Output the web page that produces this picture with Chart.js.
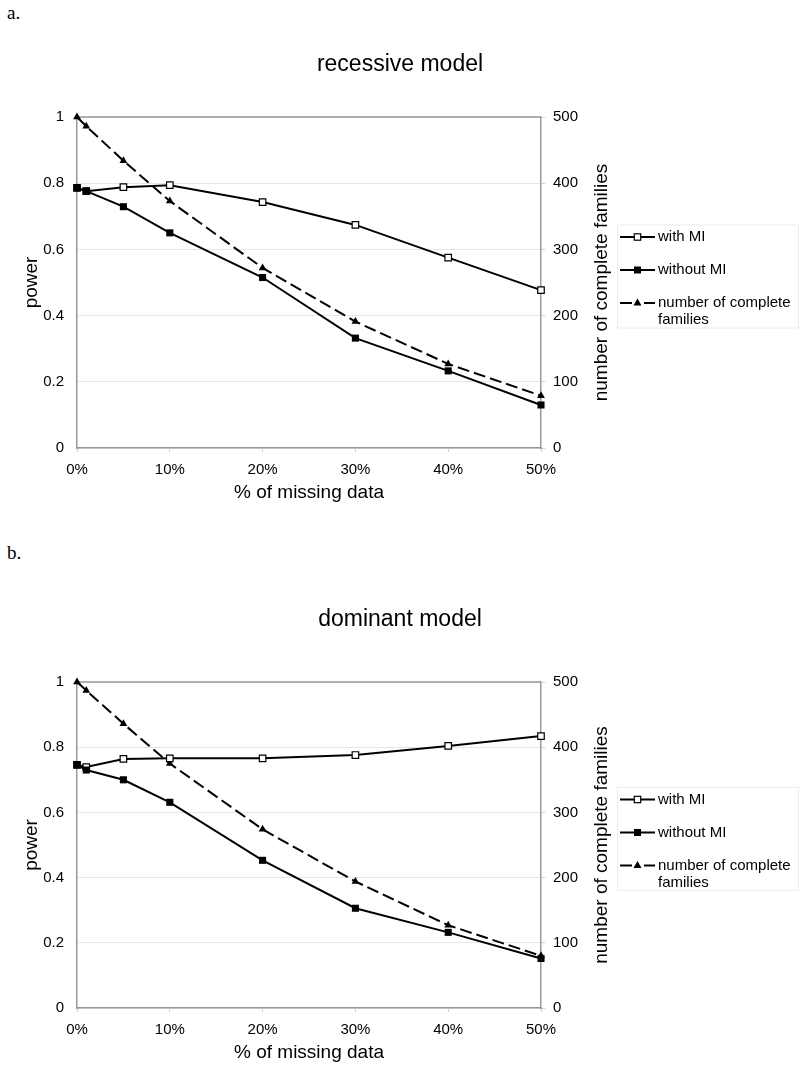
<!DOCTYPE html>
<html><head><meta charset="utf-8">
<script src="https://cdn.jsdelivr.net/npm/chart.js@4"></script>
<style>
html,body{margin:0;padding:0;background:#fff;width:800px;height:1073px;overflow:hidden;}
.panel{position:absolute;left:0;width:800px;}
.lbl{position:absolute;left:7px;font-family:"Liberation Serif","Times New Roman",serif;font-size:19px;color:#000;line-height:22px;}
</style></head><body>
<div class="lbl" style="top:2px">a.</div>
<div class="panel" style="top:0;height:540px"><canvas id="ca"></canvas></div>
<div class="lbl" style="top:542px">b.</div>
<div class="panel" style="top:540px;height:533px"><canvas id="cb"></canvas></div>
<script>
// ---- data ----
const missingPct = [0, 1, 5, 10, 20, 30, 40, 50];
const recWithMI    = [0.786, 0.776, 0.788, 0.794, 0.743, 0.674, 0.575, 0.477];
const recWithoutMI = [0.786, 0.776, 0.729, 0.650, 0.515, 0.332, 0.233, 0.130];
const recFamilies  = [500, 486, 434, 373, 272, 191, 127, 79];
const domWithMI    = [0.746, 0.739, 0.764, 0.766, 0.766, 0.776, 0.804, 0.834];
const domWithoutMI = [0.746, 0.730, 0.700, 0.631, 0.453, 0.306, 0.232, 0.152];
const domFamilies  = [500, 487, 436, 375, 274, 194, 127, 80];
const seriesLabels = ['with MI', 'without MI', 'number of complete families'];
const legendLines = [['with MI'], ['without MI'], ['number of complete', 'families']];
const xTicks = [0, 10, 20, 30, 40, 50];
const xTickLabels = ['0%', '10%', '20%', '30%', '40%', '50%'];
const powerTicks = [0, 0.2, 0.4, 0.6, 0.8, 1];
const powerTickLabels = ['0', '0.2', '0.4', '0.6', '0.8', '1'];
const familyTicks = [0, 100, 200, 300, 400, 500];
const familyTickLabels = ['0', '100', '200', '300', '400', '500'];

const FONT = '"Liberation Sans", Arial, Helvetica, sans-serif';
Chart.defaults.font.family = FONT;
Chart.defaults.color = '#000';

const decor = {
  id: 'decor',
  beforeDatasetsDraw(chart) {
    const {ctx, chartArea: a} = chart;
    ctx.save();
    ctx.strokeStyle = '#999';
    ctx.lineWidth = 1.5;
    ctx.beginPath();
    ctx.moveTo(a.left, a.top);
    ctx.lineTo(a.right, a.top);
    ctx.stroke();
    ctx.restore();
  },
  afterDraw(chart) {
    const {ctx, chartArea: a} = chart;
    const cy = (a.top + a.bottom) / 2;
    ctx.save();
    // right axis title
    ctx.translate(602, cy);
    ctx.rotate(-Math.PI / 2);
    ctx.font = '19px ' + FONT;
    ctx.fillStyle = '#000';
    ctx.textAlign = 'center';
    ctx.textBaseline = 'middle';
    ctx.fillText('number of complete families', 0, 0);
    ctx.restore();

    // legend
    ctx.save();
    ctx.strokeStyle = '#ececec';
    ctx.lineWidth = 1;
    ctx.strokeRect(617.5, cy - 57.5, 181, 103);
    const rows = [cy - 45.5, cy - 12.5, cy + 20.5];
    const x0 = 620, x1 = 655, mx = 637.5, tx = 658;
    ctx.font = '15px ' + FONT;
    ctx.fillStyle = '#000';
    ctx.textAlign = 'left';
    ctx.textBaseline = 'middle';
    rows.forEach((y, i) => {
      ctx.strokeStyle = '#000';
      ctx.lineWidth = 2;
      ctx.beginPath();
      if (i < 2) {
        ctx.moveTo(x0, y); ctx.lineTo(x1, y);
      } else {
        ctx.moveTo(x0, y); ctx.lineTo(632, y);
        ctx.moveTo(644, y); ctx.lineTo(x1, y);
      }
      ctx.stroke();
      ctx.lineWidth = 1.2;
      if (i === 0) {
        ctx.fillStyle = '#fff';
        ctx.fillRect(mx - 3.2, y - 3.2, 6.4, 6.4);
        ctx.strokeRect(mx - 3.2, y - 3.2, 6.4, 6.4);
      } else if (i === 1) {
        ctx.fillStyle = '#000';
        ctx.fillRect(mx - 3.5, y - 3.5, 7, 7);
      } else {
        ctx.fillStyle = '#000';
        ctx.beginPath();
        ctx.moveTo(mx, y - 4.5); ctx.lineTo(mx + 4, y + 2.5); ctx.lineTo(mx - 4, y + 2.5);
        ctx.closePath(); ctx.fill();
      }
      ctx.fillStyle = '#000';
      legendLines[i].forEach((t, k) => ctx.fillText(t, tx, y + k * 17));
    });
    ctx.restore();
  }
};

function makeChart(id, title, withMI, withoutMI, families, L) {
  const pts = arr => missingPct.map((x, i) => ({x: x, y: arr[i]}));
  return new Chart(document.getElementById(id), {
    type: 'line',
    data: {
      datasets: [
        {label: seriesLabels[0], data: pts(withMI), yAxisID: 'y', order: 2,
         borderColor: '#000', borderWidth: 2, pointStyle: 'rect', pointRadius: 4.6,
         pointBackgroundColor: '#fff', pointBorderColor: '#000', pointBorderWidth: 1.2, clip: false},
        {label: seriesLabels[1], data: pts(withoutMI), yAxisID: 'y', order: 1,
         borderColor: '#000', borderWidth: 2, pointStyle: 'rect', pointRadius: 5,
         pointBackgroundColor: '#000', pointBorderColor: '#000', pointBorderWidth: 0, clip: false},
        {label: seriesLabels[2], data: pts(families), yAxisID: 'y2', order: 3,
         borderColor: '#000', borderWidth: 2, borderDash: [12, 5], pointStyle: 'triangle', pointRadius: 4.5,
         pointBackgroundColor: '#000', pointBorderColor: '#000', pointBorderWidth: 0, clip: false}
      ]
    },
    options: {
      responsive: true, maintainAspectRatio: false, animation: false, devicePixelRatio: 1,
      layout: {padding: {top: 0, left: 0, right: 0, bottom: L.padBottom}},
      plugins: {
        legend: {display: false},
        tooltip: {enabled: false},
        title: {display: true, text: title, color: '#000',
                font: {size: 23, weight: 'normal', family: FONT},
                padding: {top: L.titleTop, bottom: L.titleBottom}}
      },
      scales: {
        x: {
          type: 'linear', position: 'bottom', min: 0, max: 50,
          afterBuildTicks: s => { s.ticks = xTicks.map(v => ({value: v})); },
          afterFit: s => { s.height = 60.4; },
          ticks: {callback: (v, i) => xTickLabels[i], font: {size: 15}, color: '#000',
                  padding: 9, maxRotation: 0, autoSkip: false},
          grid: {drawOnChartArea: false, drawTicks: true, tickLength: 4, color: '#cfcfcf'},
          border: {color: '#999', width: 1.5},
          title: {display: true, text: '% of missing data', color: '#000',
                  font: {size: 19}, padding: {top: 0, bottom: 4}}
        },
        y: {
          type: 'linear', position: 'left', min: 0, max: 1,
          afterBuildTicks: s => { s.ticks = powerTicks.map(v => ({value: v})); },
          afterFit: s => { s.width = 77; },
          ticks: {callback: (v, i) => powerTickLabels[i], font: {size: 15}, color: '#000', padding: 13},
          grid: {drawTicks: false, color: '#e6e6e6', lineWidth: 1},
          border: {color: '#999', width: 1.5},
          title: {display: true, text: 'power', color: '#000', font: {size: 19},
                  padding: {top: 20, bottom: 0}}
        },
        y2: {
          type: 'linear', position: 'right', min: 0, max: 500,
          afterBuildTicks: s => { s.ticks = familyTicks.map(v => ({value: v})); },
          afterFit: s => { s.width = 259; },
          ticks: {callback: (v, i) => familyTickLabels[i], font: {size: 15}, color: '#000', padding: 8},
          grid: {drawOnChartArea: false, drawTicks: true, tickLength: 4, color: '#cfcfcf'},
          border: {color: '#999', width: 1.5}
        }
      }
    },
    plugins: [decor]
  });
}

makeChart('ca', 'recessive model', recWithMI, recWithoutMI, recFamilies,
          {padBottom: 31.6, titleTop: 51.2, titleBottom: 38.2});
makeChart('cb', 'dominant model', domWithMI, domWithoutMI, domFamilies,
          {padBottom: 4.6, titleTop: 66.2, titleBottom: 48.2});
</script>
</body></html>
